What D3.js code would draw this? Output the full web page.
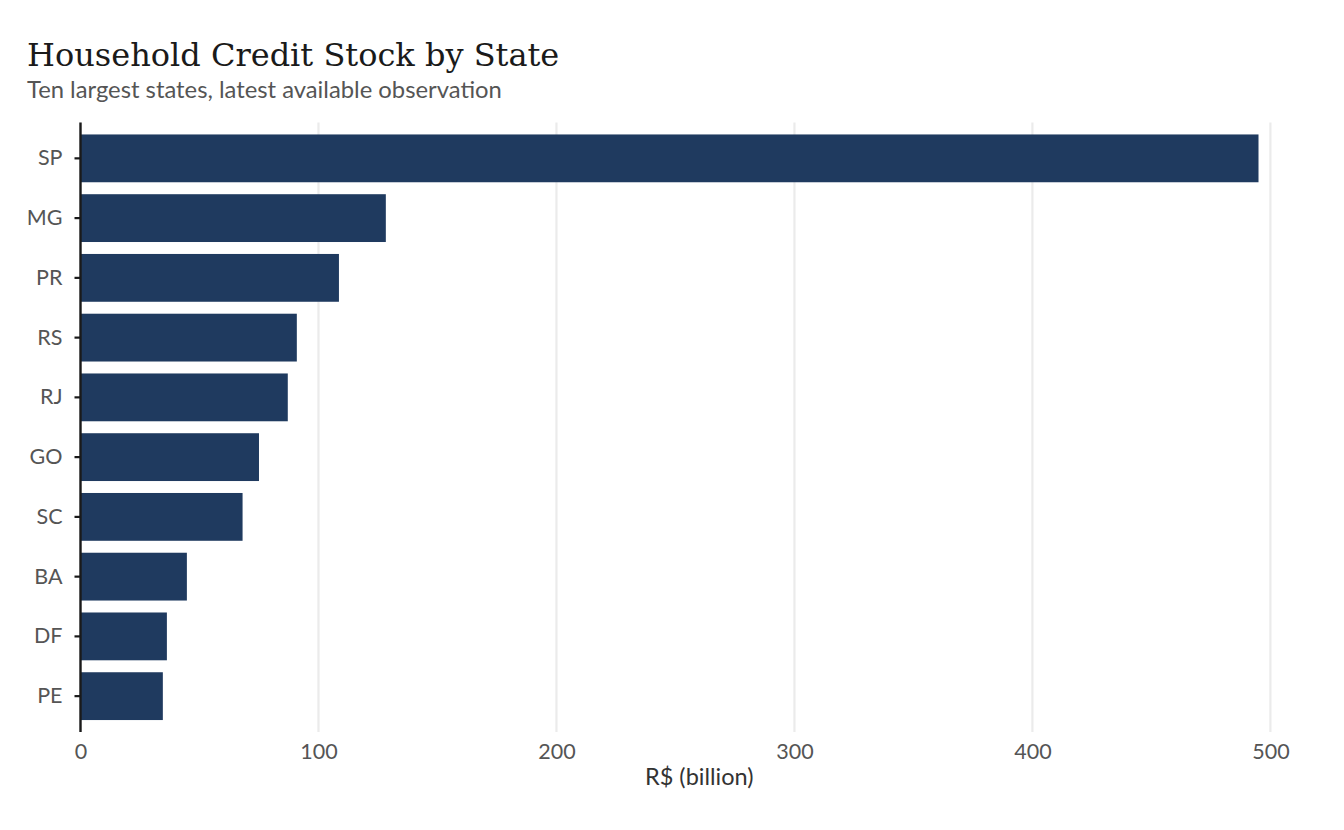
<!DOCTYPE html>
<html>
<head>
<meta charset="utf-8">
<script src="https://cdn.jsdelivr.net/npm/d3@7"></script>
<style>
  body { margin: 0; background: #ffffff; }
  svg { display: block; }
</style>
</head>
<body>
<svg id="chart" width="1344" height="830"></svg>
<script>
var states = ["SP", "MG", "PR", "RS", "RJ", "GO", "SC", "BA", "DF", "PE"];
var credit = [495.0, 128.3, 108.6, 90.9, 87.1, 75.0, 68.1, 44.7, 36.3, 34.6];
var xTicks = [0, 100, 200, 300, 400, 500];

var svg = d3.select("#chart"),
  margin = { top: 122.5, right: 26, bottom: 98, left: 80.5 },
  width = +svg.attr("width") - margin.left - margin.right,
  height = +svg.attr("height") - margin.top - margin.bottom;

var g = svg.append("g")
  .attr("transform", "translate(" + margin.left + "," + margin.top + ")");

var x = d3.scaleLinear().domain([0, 520]).range([0, width]);
var y = d3.scaleBand().domain(states).range([0, height])
  .paddingInner(0.2).paddingOuter(0.2);

// vertical grid
g.append("g")
  .selectAll("line")
  .data(xTicks)
  .enter()
  .append("line")
  .attr("x1", function (d) { return x(d); })
  .attr("x2", function (d) { return x(d); })
  .attr("y1", 0)
  .attr("y2", height)
  .attr("stroke", "#ebebeb")
  .attr("stroke-width", 2.2);

// bars
g.append("g")
  .selectAll("rect")
  .data(states)
  .enter()
  .append("rect")
  .attr("x", x(0))
  .attr("y", function (d) { return y(d); })
  .attr("width", function (d, i) { return x(credit[i]) - x(0); })
  .attr("height", y.bandwidth())
  .attr("fill", "#1f3a5f");

// x axis labels only
var xAxis = g.append("g")
  .attr("transform", "translate(0," + height + ")")
  .call(d3.axisBottom(x).tickValues(xTicks).tickSize(0).tickPadding(12));
xAxis.select(".domain").remove();
xAxis.selectAll("text")
  .attr("fill", "#555555")
  .style("font-family", "Lato")
  .style("font-size", "21.5px");

// y axis with line
var yAxis = g.append("g")
  .call(d3.axisLeft(y).tickSize(6).tickPadding(12));
yAxis.select(".domain")
  .attr("d", "M0,0V" + height)
  .attr("stroke", "#1a1a1a")
  .attr("stroke-width", 2.4);
yAxis.selectAll(".tick line")
  .attr("stroke", "#1a1a1a")
  .attr("stroke-width", 2.2);
yAxis.selectAll("text")
  .attr("fill", "#555555")
  .style("font-family", "Lato")
  .style("font-size", "21.5px");

// x axis title
svg.append("text")
  .attr("x", margin.left + width / 2)
  .attr("y", 785)
  .attr("text-anchor", "middle")
  .attr("fill", "#333333")
  .style("font-family", "Lato")
  .style("font-size", "23.5px")
  .text("R$ (billion)");

// title and subtitle
svg.append("text")
  .attr("x", 27)
  .attr("y", 66)
  .attr("fill", "#1a1a1a")
  .style("font-family", "DejaVu Serif")
  .style("font-size", "32px")
  .text("Household Credit Stock by State");

svg.append("text")
  .attr("x", 27)
  .attr("y", 98)
  .attr("fill", "#555555")
  .style("font-family", "Lato")
  .style("font-size", "23.8px")
  .text("Ten largest states, latest available observation");
</script>
</body>
</html>
